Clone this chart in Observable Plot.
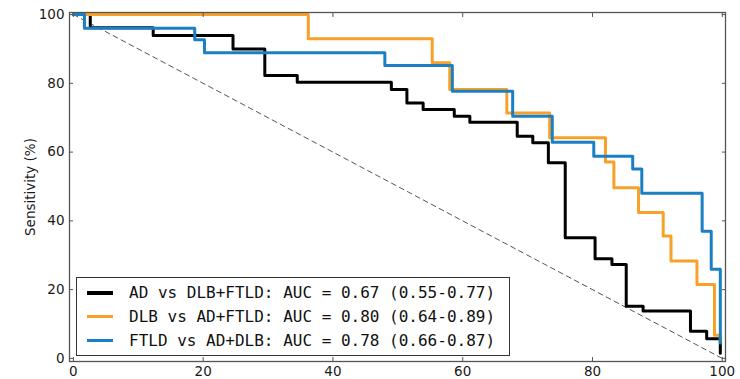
<!DOCTYPE html>
<html><head><meta charset="utf-8">
<script src="https://cdn.jsdelivr.net/npm/d3@7"></script>
<script src="https://cdn.jsdelivr.net/npm/@observablehq/plot@0.6"></script>
<style>
body{margin:0;background:#fff;}
#wrap{position:relative;width:740px;height:379px;}
#legend{position:absolute;left:76px;top:277px;width:434px;height:79px;border:1.3px solid #333;background:#fff;box-sizing:border-box;font-family:"DejaVu Sans Mono",monospace;font-size:16px;color:#111;}
.row{position:absolute;left:0;width:100%;height:22px;}
.swatch{position:absolute;left:10px;top:9px;width:26px;height:3.5px;}
.lbl{position:absolute;left:52px;top:1px;white-space:pre;line-height:20px;}
</style></head><body><div id="wrap"><div id="legend"></div></div>
<script>
// tick labels
const tickValues = [0, 20, 40, 60, 80, 100];
// chance diagonal
const chanceX = [0, 100];
const chanceY = [100, 0];
// AD vs DLB+FTLD (step points)
const adX = [0, 2.6, 12.3, 24.6, 29.5, 34.5, 49, 51.4, 53.9, 58.7, 61.1, 68.4, 70.8, 73.2, 75.8, 80.4, 83, 85.2, 87.8, 95.1, 97.6, 99.7];
const adY = [100, 96.2, 93.9, 90, 82.3, 80.3, 78.2, 74.3, 72.4, 70.4, 68.7, 64.6, 62.7, 56.9, 35.1, 29.0, 27.3, 15.2, 13.8, 7.9, 5.7, 1.5];
// DLB vs AD+FTLD
const dlbX = [0, 36.2, 55.3, 58, 66.8, 73.4, 82, 83.3, 87.1, 90.9, 92.1, 96.1, 98.8, 99.7];
const dlbY = [100, 93, 86, 78.2, 71.4, 64.2, 57.1, 49.6, 42.4, 35.6, 28.3, 21.5, 6.7, 5];
// FTLD vs AD+DLB
const ftldX = [0, 1.7, 18.7, 20.2, 48, 58.4, 67.7, 73.8, 80.2, 86.2, 87.6, 96.9, 98.3, 99.7];
const ftldY = [100, 96, 92.7, 88.9, 85.2, 77.7, 70.4, 62.9, 58.8, 55.1, 48, 37, 25.9, 4.5];
// legend
const seriesLabels = [
  "AD vs DLB+FTLD: AUC = 0.67 (0.55-0.77)",
  "DLB vs AD+FTLD: AUC = 0.80 (0.64-0.89)",
  "FTLD vs AD+DLB: AUC = 0.78 (0.66-0.87)"
];
const seriesColors = ["#000000", "#f7a12a", "#1b7fc4"];
const yLabel = "Sensitivity (%)";

const toRows = (xs, ys) => xs.map((x, i) => ({x, y: ys[i]}));
const seriesData = [toRows(adX, adY), toRows(dlbX, dlbY), toRows(ftldX, ftldY)];

const chart = Plot.plot({
  width: 740, height: 379,
  marginLeft: 69, marginRight: 15, marginTop: 12, marginBottom: 18,
  x: {domain: [-0.6, 100.5]},
  y: {domain: [-0.9, 100.6]},
  style: {fontFamily: "DejaVu Sans, sans-serif", fontSize: "13.5px", color: "#1a1a1a", background: "white", overflow: "visible"},
  marks: [
    Plot.line(toRows(chanceX, chanceY), {x: "x", y: "y", stroke: "#555", strokeWidth: 1, strokeDasharray: "5,4"}),
    ...seriesData.map((d, i) => Plot.line(d, {x: "x", y: "y", curve: "step-after", stroke: seriesColors[i], strokeWidth: 3})),
    Plot.frame({stroke: "#555", strokeWidth: 1.3}),
    Plot.axisX({ticks: tickValues, anchor: "bottom", tickSize: 0, tickPadding: 5, label: null, fontSize: 13.5}),
    Plot.axisX({ticks: tickValues, anchor: "bottom", tickSize: 4, dy: -4, tickFormat: () => "", label: null, stroke: "#555"}),
    Plot.axisX({ticks: tickValues, anchor: "top", tickSize: 4, dy: 4, tickFormat: () => "", label: null, stroke: "#555"}),
    Plot.axisY({ticks: tickValues, anchor: "left", tickSize: 0, tickPadding: 5, label: yLabel, labelAnchor: "center", labelArrow: "none", labelOffset: 44, fontSize: 13.5}),
    Plot.axisY({ticks: tickValues, anchor: "left", tickSize: 4, dx: 4, tickFormat: () => "", label: null, stroke: "#555"}),
    Plot.axisY({ticks: tickValues, anchor: "right", tickSize: 4, dx: -4, tickFormat: () => "", label: null, stroke: "#555"})
  ]
});
document.getElementById("wrap").prepend(chart);

const legend = document.getElementById("legend");
seriesLabels.forEach((t, i) => {
  const row = document.createElement("div");
  row.className = "row";
  row.style.top = (4 + i * 23.8) + "px";
  const sw = document.createElement("div");
  sw.className = "swatch";
  sw.style.background = seriesColors[i];
  const lb = document.createElement("div");
  lb.className = "lbl";
  lb.textContent = t;
  row.appendChild(sw); row.appendChild(lb);
  legend.appendChild(row);
});
</script></body></html>
